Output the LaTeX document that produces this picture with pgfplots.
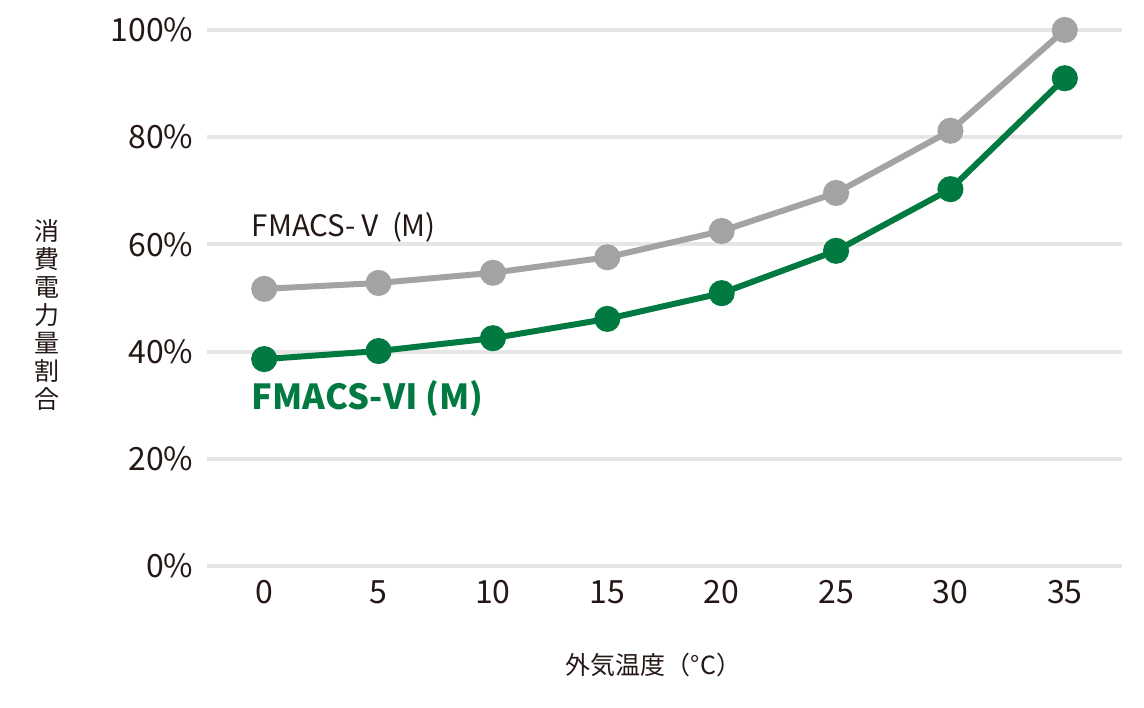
\documentclass[border=0pt]{standalone}
\usepackage{fontspec}
\setmainfont{Noto Sans CJK JP}
\usepackage{pgfplots}
\pgfplotsset{compat=1.18}
\definecolor{txt}{HTML}{231815}
\definecolor{grn}{HTML}{007A40}
\definecolor{gry}{HTML}{A3A3A3}
\definecolor{grd}{HTML}{E6E6E6}
\begin{document}
\begin{tikzpicture}[x=1pt,y=1pt]
\path[use as bounding box] (0,0) rectangle (1144,708);
\begin{axis}[
    at={(207pt,142pt)}, anchor=south west,
    width=915pt, height=536pt, scale only axis,
    xmin=-2.5, xmax=37.5, ymin=0, ymax=100,
    xtick={0,5,...,35}, ytick={0,20,...,100},
    axis line style={draw=none},
    major tick length=0pt,
    ymajorgrids, grid style={grd, line width=4pt},
    clip=false,
    /pgf/number format/assume math mode=true,
    ticklabel style={font=\fontsize{32}{36}\selectfont, text=txt},
    yticklabel={\pgfmathprintnumber{\tick}\%},
    yticklabel style={xshift=-10pt},
    xticklabel style={yshift=-11pt},
]
\addplot[gry, line width=6pt, mark=*, mark size=10pt, mark options={fill=gry, draw=none}]
  coordinates {(0,51.7) (5,52.8) (10,54.7) (15,57.6) (20,62.5) (25,69.6) (30,81.2) (35,100)};
\addplot[grn, line width=6pt, mark=*, mark size=10pt, mark options={fill=grn, draw=none}]
  coordinates {(0,38.6) (5,40.1) (10,42.5) (15,46.1) (20,50.9) (25,58.8) (30,70.3) (35,91.0)};
\node[anchor=west, text=txt, font=\fontsize{29.5}{32}\selectfont, inner sep=0pt] at (axis cs:-0.55,63.1) {FMACS-Ⅴ (M)};
\node[anchor=west, text=grn, font=\bfseries\fontsize{34.5}{40}\selectfont, inner sep=0pt] at (axis cs:-0.55,31.2) {FMACS-Ⅵ (M)};
\node[text=txt, font=\fontsize{25}{28}\selectfont, align=center] at (axis description cs:-0.175,0.468) {消\\費\\電\\力\\量\\割\\合};
\node[text=txt, font=\fontsize{25}{28}\selectfont] at (axis description cs:0.488,-0.185) {外気温度（°C）};
\end{axis}
\end{tikzpicture}
\end{document}
